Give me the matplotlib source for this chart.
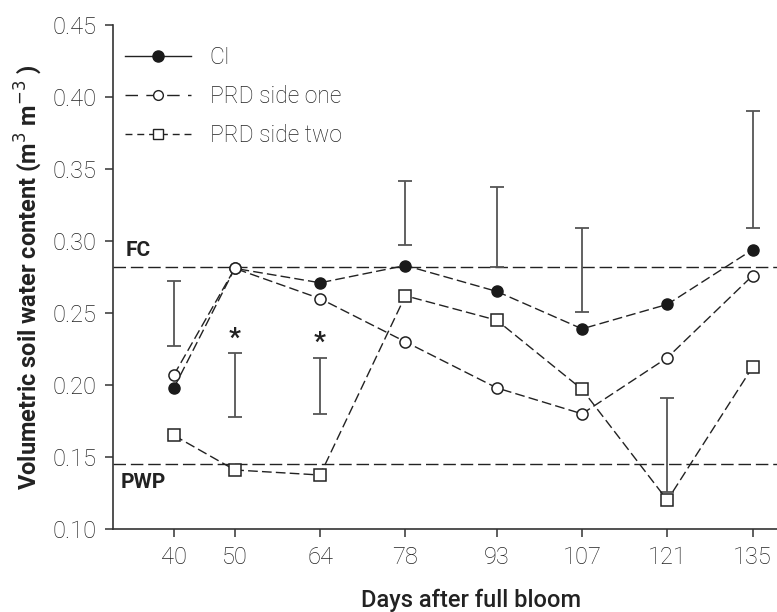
import matplotlib.pyplot as plt
from matplotlib.lines import Line2D

plt.rcParams['font.family'] = ['Roboto', 'DejaVu Sans']

days = [40, 50, 64, 78, 93, 107, 121, 135]
ci = [0.198, 0.281, 0.271, 0.283, 0.265, 0.239, 0.256, 0.294]
prd_one = [0.207, 0.281, 0.260, 0.230, 0.198, 0.180, 0.219, 0.276]
prd_two = [0.165, 0.141, 0.1375, 0.262, 0.245, 0.197, 0.120, 0.2125]

# vertical bars (bottom, top)
bar_low = [0.227, 0.178, 0.180, 0.297, 0.282, 0.251, 0.126, 0.309]
bar_high = [0.272, 0.222, 0.219, 0.342, 0.3375, 0.309, 0.191, 0.390]
star_days = [50, 64]

fc = 0.282
pwp = 0.145

fig = plt.figure(figsize=(7.77, 6.12), dpi=100)
ax = fig.add_axes([0.1454, 0.1356, 0.8546, 0.8235])

ax.axhline(fc, color='#222222', lw=1.0, ls=(0, (9, 3.5)), zorder=1)
ax.axhline(pwp, color='#222222', lw=1.0, ls=(0, (9, 3.5)), zorder=1)

mid = [(a + b) / 2 for a, b in zip(bar_low, bar_high)]
half = [(b - a) / 2 for a, b in zip(bar_low, bar_high)]
ax.errorbar(days, mid, yerr=half, fmt='none', ecolor='#555555',
            elinewidth=1.3, capsize=4.7, capthick=1.3, zorder=2)

dash = (0, (7, 3))
ax.plot(days, prd_two, color='#222222', lw=1.0, ls=dash, marker='s', ms=8,
        mfc='white', mec='#222222', mew=1.1, zorder=3)
ax.plot(days, ci, color='#222222', lw=1.0, ls=dash, marker='o', ms=8,
        mfc='#1a1a1a', mec='#1a1a1a', zorder=4)
ax.plot(days, prd_one, color='#222222', lw=1.0, ls=dash, marker='o', ms=8,
        mfc='white', mec='#222222', mew=1.1, zorder=5)

for d in star_days:
    i = days.index(d)
    ax.text(d, bar_high[i] + 0.002, '*', ha='center', va='bottom',
            fontsize=19, fontweight='bold', color='#222222')

ax.text(32.0, fc + 0.005, 'FC', fontsize=15, fontweight='bold',
        ha='left', va='bottom', color='#222222')
ax.text(31.2, pwp - 0.006, 'PWP', fontsize=15, fontweight='bold',
        ha='left', va='top', color='#222222')

handles = [
    Line2D([], [], color='#222222', lw=1.0, ls='-', marker='o', ms=8,
           mfc='#1a1a1a', mec='#1a1a1a'),
    Line2D([], [], color='#222222', lw=1.0, ls=(0, (9, 6)), marker='o', ms=7,
           mfc='white', mec='#222222'),
    Line2D([], [], color='#222222', lw=1.0, ls=(0, (5, 3.5)), marker='s', ms=7,
           mfc='white', mec='#222222'),
]
leg = ax.legend(handles, ['CI', 'PRD side one', 'PRD side two'], loc='upper left',
                bbox_to_anchor=(-0.013, 1.0), frameon=False, fontsize=16.5,
                handlelength=2.9, handletextpad=0.8, labelspacing=0.7)
for t in leg.get_texts():
    t.set_fontweight('light')
    t.set_color('#222222')

ax.set_xlim(30, 139)
ax.set_ylim(0.10, 0.45)
ax.set_xticks(days)
ax.set_yticks([0.10, 0.15, 0.20, 0.25, 0.30, 0.35, 0.40, 0.45])
ax.set_yticklabels(['%.2f' % v for v in ax.get_yticks()])
for lab in ax.get_xticklabels() + ax.get_yticklabels():
    lab.set_fontweight('light')
    lab.set_fontsize(17)
    lab.set_color('#222222')

ax.spines['top'].set_visible(False)
ax.spines['right'].set_visible(False)
ax.spines['left'].set_color('#333333')
ax.spines['bottom'].set_color('#333333')
ax.spines['left'].set_linewidth(1.2)
ax.spines['bottom'].set_linewidth(1.2)
ax.tick_params(direction='out', length=6, width=1.1, color='#333333', pad=6)

ax.set_xlabel('Days after full bloom', fontsize=17, fontweight='medium',
              color='#222222')
ax.xaxis.set_label_coords(0.539, -0.118)
ax.set_ylabel('Volumetric soil water content (m$^3$ m$^{-3}$ )', fontsize=17,
              fontweight='bold', color='#222222', labelpad=6)

fig.savefig('out.png', dpi=100)
